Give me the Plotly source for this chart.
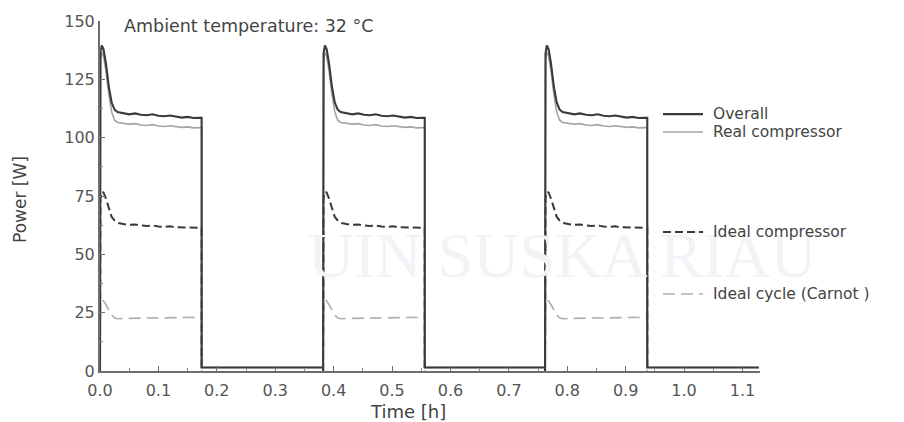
import plotly.graph_objects as go

# ---- data ----
cycle_on = [0.0, 0.382, 0.762]          # compressor switch-on times [h]
cycle_off = [0.174, 0.556, 0.937]       # compressor switch-off times [h]
t_end = 1.128
off_power = 1.5                          # standby level while compressor is off [W]

# relative time within an on-period [h]
prof_t = [0.0, 0.0008, 0.003, 0.006, 0.010, 0.015, 0.020, 0.025, 0.030, 0.040, 0.050,
          0.060, 0.070, 0.080, 0.090, 0.100, 0.110, 0.120, 0.130, 0.140, 0.150, 0.160, 0.170]
overall = [0.0, 136, 139.5, 138, 132, 122, 115, 112, 111, 110.5, 110,
           110.4, 109.8, 109.6, 110.0, 109.4, 109.2, 109.5, 108.9, 108.6, 108.9, 108.4, 108.5]
real_comp = [0.0, 133, 136.5, 135, 129, 118.5, 111, 107.5, 106.5, 106, 105.8,
             106, 105.4, 105.2, 105.6, 105, 104.8, 105.1, 104.6, 104.4, 104.6, 104.2, 104.3]
ideal_comp = [0.0, 74, 76.8, 76.5, 74, 70, 66, 64.5, 63.5, 63, 62.6,
              62.8, 62.3, 62.1, 62.4, 61.9, 61.8, 62.0, 61.6, 61.5, 61.7, 61.3, 61.4]
ideal_cycle = [0.0, 29, 30.5, 30, 28.5, 26, 24, 22.8, 22.4, 22.5, 22.6,
               22.7, 22.6, 22.7, 22.8, 22.7, 22.8, 22.9, 22.8, 22.9, 23.0, 22.9, 23.0]

legend_names = ["Overall", "Real compressor", "Ideal compressor", "Ideal cycle (Carnot )"]


def build(profile, off_val, keep_off):
    xs, ys = [], []
    for k, (t0, t1) in enumerate(zip(cycle_on, cycle_off)):
        for dt, v in zip(prof_t, profile):
            xs.append(t0 + dt)
            ys.append(v)
        xs.append(t1)
        ys.append(profile[-1])
        xs.append(t1)
        ys.append(off_val)
        if keep_off:
            nxt = cycle_on[k + 1] if k + 1 < len(cycle_on) else t_end
            xs.append(nxt)
            ys.append(off_val)
        else:
            xs.append(None)
            ys.append(None)
    return xs, ys


FONT = "DejaVu Sans"
styles = [
    dict(color="#3a3a3a", width=2.1, dash="solid"),
    dict(color="#a4a4a4", width=1.6, dash="solid"),
    dict(color="#3a3a3a", width=2.0, dash="8px,4px"),
    dict(color="#b0b0b0", width=1.6, dash="12px,6px"),
]
series = [(overall, off_power, True), (real_comp, off_power, True),
          (ideal_comp, 0.0, False), (ideal_cycle, 0.0, False)]

fig = go.Figure()
# draw back-to-front so the dark overall line is on top
for idx in [3, 2, 1, 0]:
    prof, offv, keep = series[idx]
    xs, ys = build(prof, offv, keep)
    fig.add_trace(go.Scatter(x=xs, y=ys, mode="lines", line=styles[idx],
                             name=legend_names[idx], showlegend=False, connectgaps=False))

# very faint watermark
fig.add_annotation(text="UIN SUSKA RIAU", xref="paper", yref="paper", x=0.70, y=0.33,
                   showarrow=False, font=dict(family="Liberation Serif", size=64, color="#f2f3f7"),
                   xanchor="center", yanchor="middle")

# legend drawn as labelled line samples beside the plot
leg_y = [0.734, 0.683, 0.397, 0.220]
for i, name in enumerate(legend_names):
    st = styles[i]
    fig.add_shape(type="line", xref="paper", yref="paper", x0=0.853, x1=0.9136,
                  y0=leg_y[i], y1=leg_y[i],
                  line=dict(color=st["color"], width=st["width"], dash=st["dash"]))
    fig.add_annotation(text=name, xref="paper", yref="paper", x=0.925, y=leg_y[i],
                       xanchor="left", yanchor="middle", showarrow=False,
                       font=dict(family=FONT, size=15.5, color="#444444"))

fig.add_annotation(text="Ambient temperature: 32 \u00b0C", xref="paper", yref="paper",
                   x=0.034, y=0.986, xanchor="left", yanchor="middle", showarrow=False,
                   font=dict(family=FONT, size=17.5, color="#444444"))

# axis titles
fig.add_annotation(text="Time [h]", xref="paper", yref="paper", x=(408 - 100) / 660, y=-0.115,
                   xanchor="center", yanchor="middle", showarrow=False,
                   font=dict(family=FONT, size=18, color="#444444"))
fig.add_annotation(text="Power [W]", xref="paper", yref="paper", x=(20 - 100) / 660,
                   y=(371 - 200) / 350, textangle=-90, xanchor="center", yanchor="middle",
                   showarrow=False, font=dict(family=FONT, size=17, color="#444444"))

axis_common = dict(showline=True, linecolor="#6e6e6e", linewidth=2, ticks="inside",
                   tickcolor="#6e6e6e", ticklen=5, tickwidth=1, showgrid=False, zeroline=False,
                   tickfont=dict(family=FONT, size=16, color="#555555"),
                   mirror=False, automargin=False)

fig.update_xaxes(range=[0, 1.13], dtick=0.1, tick0=0, tickformat=".1f",
                 ticklabelstandoff=4,
                 minor=dict(dtick=0.05, ticks="inside", ticklen=3, tickcolor="#8a8a8a"),
                 **axis_common)
fig.update_yaxes(range=[0, 150], dtick=25, tick0=0,
                 minor=dict(dtick=12.5, ticks="inside", ticklen=3, tickcolor="#8a8a8a"),
                 **axis_common)

# page body has an 8px default margin, so the figure is 8px smaller than the window
fig.update_layout(width=896, height=414, margin=dict(l=92, r=144, t=13, b=51),
                  plot_bgcolor="white", paper_bgcolor="white", showlegend=False)

fig.write_html("out.html")
